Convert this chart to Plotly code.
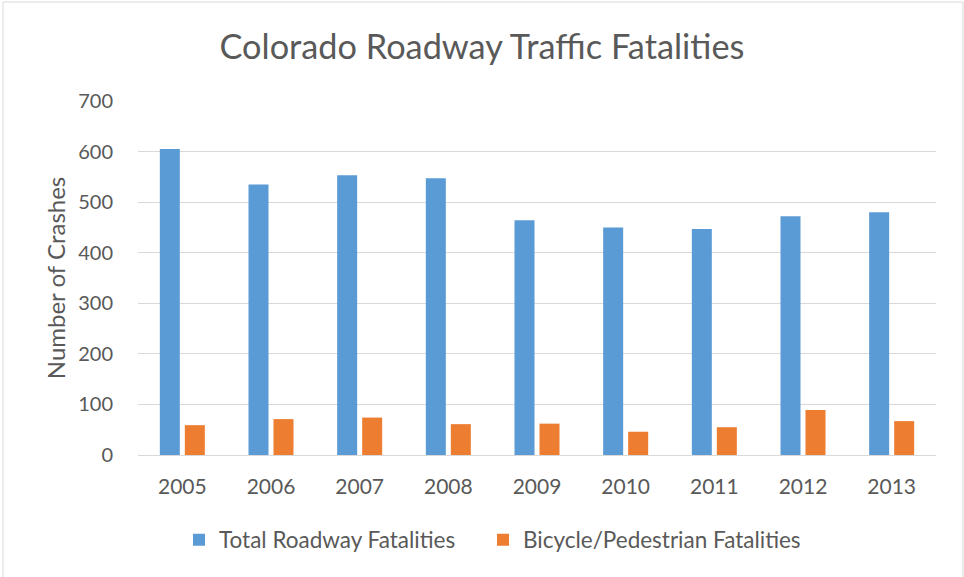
import plotly.graph_objects as go

years = ["2005", "2006", "2007", "2008", "2009", "2010", "2011", "2012", "2013"]
total_fatalities = [605, 535, 553, 547, 464, 450, 447, 472, 480]
bikeped_fatalities = [59, 71, 74, 61, 62, 46, 55, 89, 67]
y_ticks = [0, 100, 200, 300, 400, 500, 600, 700]

FONT = "Lato"
GRAY = "#595959"

fig = go.Figure()
fig.add_trace(go.Bar(x=years, y=total_fatalities, name="Total Roadway Fatalities",
                     marker=dict(color="#5B9BD5", line=dict(width=0)), legend="legend"))
fig.add_trace(go.Bar(x=years, y=bikeped_fatalities, name="Bicycle/Pedestrian Fatalities",
                     marker=dict(color="#ED7D31", line=dict(width=0)), legend="legend2"))

W, H = 964, 577
L, R, T, B = 138, 28, 101, 122

leg_common = dict(orientation="h", xref="container", yref="container", xanchor="left",
                  y=1 - 540 / H, yanchor="middle", font=dict(family=FONT, size=22.5, color=GRAY),
                  itemwidth=30, bgcolor="rgba(0,0,0,0)", borderwidth=0)

fig.update_layout(
    width=W, height=H,
    margin=dict(l=L, r=R, t=T, b=B, autoexpand=False),
    paper_bgcolor="white", plot_bgcolor="white",
    barmode="group", bargap=0.436, bargroupgap=0.2,
    title=dict(text="Colorado Roadway Traffic Fatalities", x=0.5, xref="container",
               y=1 - 47 / H, yref="container", yanchor="middle", xanchor="center",
               font=dict(family=FONT, size=34.3, color=GRAY)),
    font=dict(family=FONT, color=GRAY),
    legend=dict(x=(193 - 14) / W, **leg_common),
    legend2=dict(x=(497 - 14) / W, **leg_common),
    showlegend=True,
)
fig.update_yaxes(range=[0, 700], tickvals=y_ticks, showgrid=True, gridcolor="#D9D9D9", gridwidth=1,
                 zeroline=False, showline=False, ticks="", ticklabelstandoff=24,
                 tickfont=dict(family=FONT, size=20, color=GRAY),
                 title=dict(text="Number of Crashes", font=dict(family=FONT, size=24, color=GRAY), standoff=5))
fig.update_xaxes(showline=True, linecolor="#D9D9D9", linewidth=1, ticks="", ticklabelstandoff=13,
                 tickfont=dict(family=FONT, size=21, color=GRAY), showgrid=False)

# outer chart border
fig.add_shape(type="rect", xref="paper", yref="paper",
              x0=(3 - L) / (W - L - R), x1=(963 - L) / (W - L - R),
              y0=(H - B - 600) / (H - T - B), y1=(H - B - 2) / (H - T - B),
              line=dict(color="#D9D9D9", width=1), fillcolor="rgba(0,0,0,0)", layer="below")

fig.write_html("out.html", config={"displayModeBar": False},
               post_script="document.body.style.margin='0';document.body.style.overflow='hidden';")
